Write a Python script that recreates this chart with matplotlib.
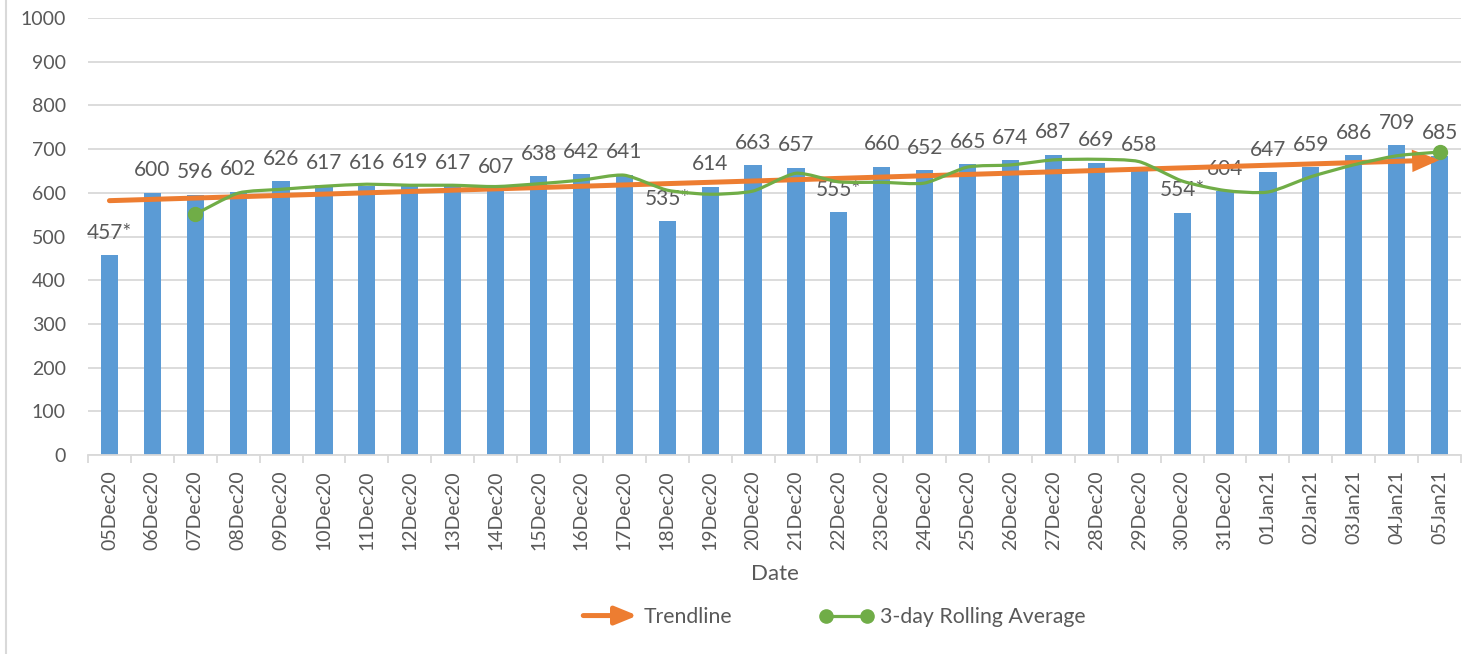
import matplotlib
matplotlib.use("Agg")
import matplotlib.pyplot as plt
import numpy as np
from matplotlib.path import Path
from matplotlib.patches import PathPatch, FancyArrowPatch
from matplotlib.lines import Line2D
from matplotlib.legend_handler import HandlerBase

# ---------------- data ----------------
dates = ["05Dec20", "06Dec20", "07Dec20", "08Dec20", "09Dec20", "10Dec20", "11Dec20",
         "12Dec20", "13Dec20", "14Dec20", "15Dec20", "16Dec20", "17Dec20", "18Dec20",
         "19Dec20", "20Dec20", "21Dec20", "22Dec20", "23Dec20", "24Dec20", "25Dec20",
         "26Dec20", "27Dec20", "28Dec20", "29Dec20", "30Dec20", "31Dec20", "01Jan21",
         "02Jan21", "03Jan21", "04Jan21", "05Jan21"]
values = [457, 600, 596, 602, 626, 617, 616, 619, 617, 607, 638, 642, 641, 535,
          614, 663, 657, 555, 660, 652, 665, 674, 687, 669, 658, 554, 604, 647,
          659, 686, 709, 685]
value_labels = ["457*", "600", "596", "602", "626", "617", "616", "619", "617", "607",
                "638", "642", "641", "535*", "614", "663", "657", "555*", "660", "652",
                "665", "674", "687", "669", "658", "554*", "604", "647", "659", "686",
                "709", "685"]
rolling_dates = dates[2:]
rolling_avg = [551.0, 599.3, 608.0, 615.0, 619.7, 617.3, 617.3, 614.3, 620.7, 629.0,
               640.3, 606.0, 596.7, 604.0, 644.7, 625.0, 624.0, 622.3, 659.0, 663.7,
               675.3, 676.7, 671.3, 627.0, 605.3, 601.7, 636.7, 664.0, 684.7, 693.3]
trend_dates = [dates[0], dates[-1]]
trend_values = [582, 675]
y_ticks = [0, 100, 200, 300, 400, 500, 600, 700, 800, 900, 1000]

# ---------------- style ----------------
BLUE = "#5B9BD5"
ORANGE = "#ED7D31"
GREEN = "#70AD47"
TXT = "#595959"
GRID = "#D9D9D9"
plt.rcParams["font.family"] = ["Lato", "DejaVu Sans"]
ARROWSTYLE = "-|>,head_length=1.1,head_width=0.45"

fig = plt.figure(figsize=(14.72, 6.54), dpi=100)
ax = fig.add_axes([88 / 1472, 1 - 455 / 654, (1461 - 88) / 1472, (455 - 18) / 654])

x = np.arange(len(dates))
pos = {d: i for i, d in enumerate(dates)}

ax.bar(x, values, width=0.4, color=BLUE, zorder=2)

for xi, v, lab in zip(x, values, value_labels):
    ax.annotate(lab, (xi, v), xytext=(0, 9), textcoords="offset points",
                ha="center", va="bottom", fontsize=15, color=TXT, zorder=3)

# trendline with arrow
tx = [pos[d] for d in trend_dates]
arr = FancyArrowPatch((tx[0], trend_values[0]), (tx[1], trend_values[1]),
                      arrowstyle=ARROWSTYLE, mutation_scale=12,
                      lw=3.6, color=ORANGE, shrinkA=0, shrinkB=0, zorder=4,
                      capstyle="round", joinstyle="miter")
ax.add_patch(arr)

# smoothed rolling average (Bezier through the points)
rx = np.array([pos[d] for d in rolling_dates], dtype=float)
ry = np.array(rolling_avg, dtype=float)
P = np.column_stack([rx, ry])
verts = [P[0]]
codes = [Path.MOVETO]
n = len(P)
k = 9.0
for i in range(n - 1):
    p0 = P[i - 1] if i > 0 else P[i]
    p1 = P[i]
    p2 = P[i + 1]
    p3 = P[i + 2] if i + 2 < n else P[i + 1]
    c1 = p1 + (p2 - p0) / k
    c2 = p2 - (p3 - p1) / k
    verts += [c1, c2, p2]
    codes += [Path.CURVE4] * 3
ax.add_patch(PathPatch(Path(verts, codes), facecolor="none", edgecolor=GREEN,
                       lw=2.3, zorder=5, capstyle="round", joinstyle="round"))
ax.plot([rx[0], rx[-1]], [ry[0], ry[-1]], "o", color=GREEN, ms=10, zorder=6, lw=0)

# axes
ax.set_xlim(-0.5, len(dates) - 0.5)
ax.set_ylim(0, 1000)
ax.set_yticks(y_ticks)
ax.yaxis.grid(True, color=GRID, lw=1.3, zorder=0)
ax.set_axisbelow(True)
for s in ["top", "right", "left"]:
    ax.spines[s].set_visible(False)
ax.spines["bottom"].set_color(GRID)
ax.spines["bottom"].set_linewidth(1.3)
ax.tick_params(axis="y", length=0, labelsize=14, labelcolor=TXT, pad=16)
ax.set_xticks(x)
ax.set_xticklabels(dates, rotation=90)
ax.tick_params(axis="x", which="major", length=0, labelsize=14, labelcolor=TXT, pad=11)
ax.set_xticks(np.arange(-0.5, len(dates), 1.0), minor=True)
ax.tick_params(axis="x", which="minor", length=6, width=1.3, color=GRID)
ax.set_xlabel("Date", fontsize=16, color=TXT, labelpad=10)


# legend
class HandlerArrow(HandlerBase):
    def create_artists(self, legend, orig_handle, xdescent, ydescent, width, height,
                       fontsize, trans):
        y = height / 2 - ydescent
        a = FancyArrowPatch((-xdescent, y), (-xdescent + width, y),
                            arrowstyle=ARROWSTYLE, mutation_scale=12, lw=3.6,
                            color=ORANGE, shrinkA=0, shrinkB=0,
                            capstyle="round", transform=trans)
        return [a]


h_trend = Line2D([], [], color=ORANGE)
h_roll = Line2D([], [], color=GREEN, lw=2.3, marker="o", ms=9.5)
fig.legend([h_trend, h_roll], ["Trendline", "3-day Rolling Average"],
           handler_map={h_trend: HandlerArrow()}, numpoints=2,
           loc="center", bbox_to_anchor=(834.5 / 1472, 1 - 617 / 654), ncol=2,
           frameon=False, fontsize=15.3, labelcolor=TXT, handlelength=2.55,
           columnspacing=4.1, handletextpad=0.3)

# chart border on left
fig.add_artist(Line2D([6.5 / 1472, 6.5 / 1472], [0, 1], transform=fig.transFigure,
                      color=GRID, lw=1.5))

fig.savefig("out.png", dpi=100)
